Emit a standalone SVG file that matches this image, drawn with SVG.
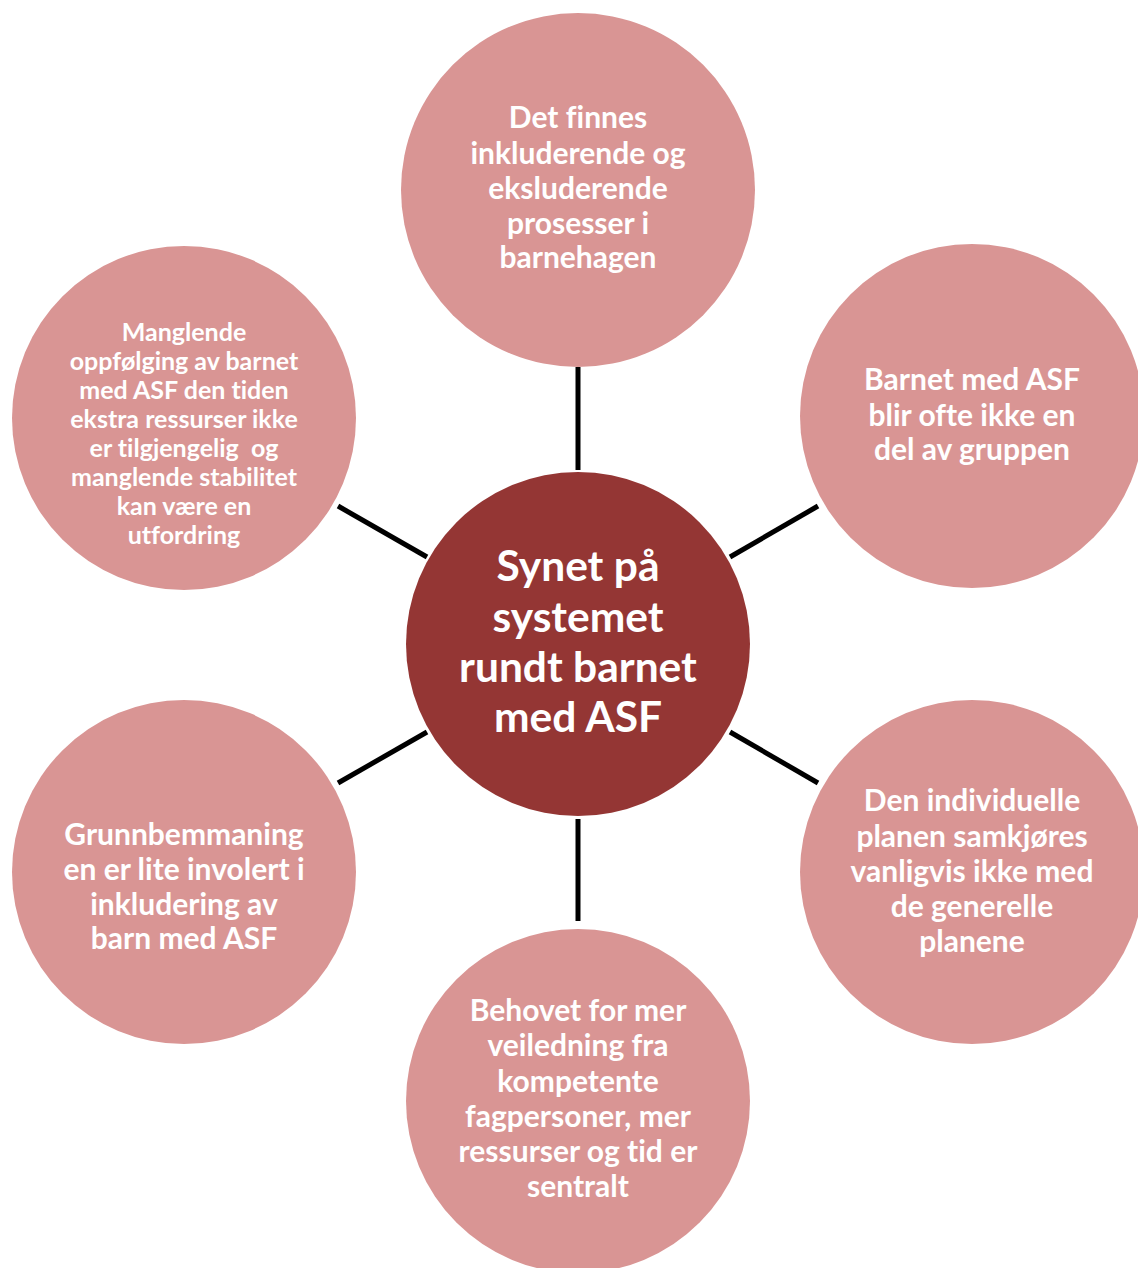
<svg xmlns="http://www.w3.org/2000/svg" width="1138" height="1268" viewBox="0 0 1138 1268">
  <style>
    .node { fill: #D99594; }
    .hub { fill: #943634; }
    .link { stroke: #000000; stroke-width: 5; stroke-linecap: butt; }
    text { font-family: Lato, "Open Sans", "Liberation Sans", sans-serif; font-weight: bold; fill: #FFFFFF; text-anchor: middle; font-variant-ligatures: none; }
    .t { font-size: 30px; }
    .s { font-size: 25px; }
    .c { font-size: 42.5px; }
  </style>
  <rect width="1138" height="1268" fill="#FFFFFF"/>

  <!-- spokes from the hub to the six surrounding circles -->
  <g id="connectors">
    <line class="link" x1="578" y1="367" x2="578" y2="470"/>
    <line class="link" x1="730" y1="557" x2="818" y2="506"/>
    <line class="link" x1="730" y1="732" x2="818" y2="783"/>
    <line class="link" x1="578" y1="819" x2="578" y2="921"/>
    <line class="link" x1="427" y1="732" x2="338" y2="783"/>
    <line class="link" x1="427" y1="557" x2="338" y2="506"/>
  </g>

  <!-- tspans are written back to back so no collapsed space shifts the centring -->
  <g id="node-top">
    <circle class="node" cx="578" cy="190" r="177"/>
    <text class="t"><tspan x="578" y="128">Det finnes</tspan><tspan x="578" y="163.5">inkluderende og</tspan><tspan x="578" y="199">eksluderende</tspan><tspan x="578" y="233.5">prosesser i</tspan><tspan x="578" y="268">barnehagen</tspan></text>
  </g>

  <g id="node-upper-right">
    <circle class="node" cx="972" cy="416" r="172"/>
    <text class="t"><tspan x="972" y="390">Barnet med ASF</tspan><tspan x="972" y="425.5">blir ofte ikke en</tspan><tspan x="972" y="460">del av gruppen</tspan></text>
  </g>

  <g id="node-lower-right">
    <circle class="node" cx="972" cy="872" r="172"/>
    <text class="t"><tspan x="972" y="811">Den individuelle</tspan><tspan x="972" y="846.5">planen samkjøres</tspan><tspan x="972" y="882">vanligvis ikke med</tspan><tspan x="972" y="917">de generelle</tspan><tspan x="972" y="952">planene</tspan></text>
  </g>

  <g id="node-bottom">
    <circle class="node" cx="578" cy="1101" r="172"/>
    <text class="t"><tspan x="578" y="1021">Behovet for mer</tspan><tspan x="578" y="1056">veiledning fra</tspan><tspan x="578" y="1091.5">kompetente</tspan><tspan x="578" y="1126.5">fagpersoner, mer</tspan><tspan x="578" y="1161.5">ressurser og tid er</tspan><tspan x="578" y="1196.5">sentralt</tspan></text>
  </g>

  <g id="node-lower-left">
    <circle class="node" cx="184" cy="872" r="172"/>
    <text class="t"><tspan x="184" y="845">Grunnbemmaning</tspan><tspan x="184" y="880">en er lite involert i</tspan><tspan x="184" y="914.5">inkludering av</tspan><tspan x="184" y="949">barn med ASF</tspan></text>
  </g>

  <g id="node-upper-left">
    <circle class="node" cx="184" cy="418" r="172"/>
    <text class="s" xml:space="preserve"><tspan x="184" y="341">Manglende</tspan><tspan x="184" y="370">oppfølging av barnet</tspan><tspan x="184" y="399">med ASF den tiden</tspan><tspan x="184" y="428">ekstra ressurser ikke</tspan><tspan x="184" y="457">er tilgjengelig  og</tspan><tspan x="184" y="486">manglende stabilitet</tspan><tspan x="184" y="515">kan være en</tspan><tspan x="184" y="544">utfordring</tspan></text>
  </g>

  <g id="node-center">
    <circle class="hub" cx="578" cy="644" r="172"/>
    <text class="c"><tspan x="578" y="581">Synet på</tspan><tspan x="578" y="631.5">systemet</tspan><tspan x="578" y="681.5">rundt barnet</tspan><tspan x="578" y="731.5">med ASF</tspan></text>
  </g>
</svg>
